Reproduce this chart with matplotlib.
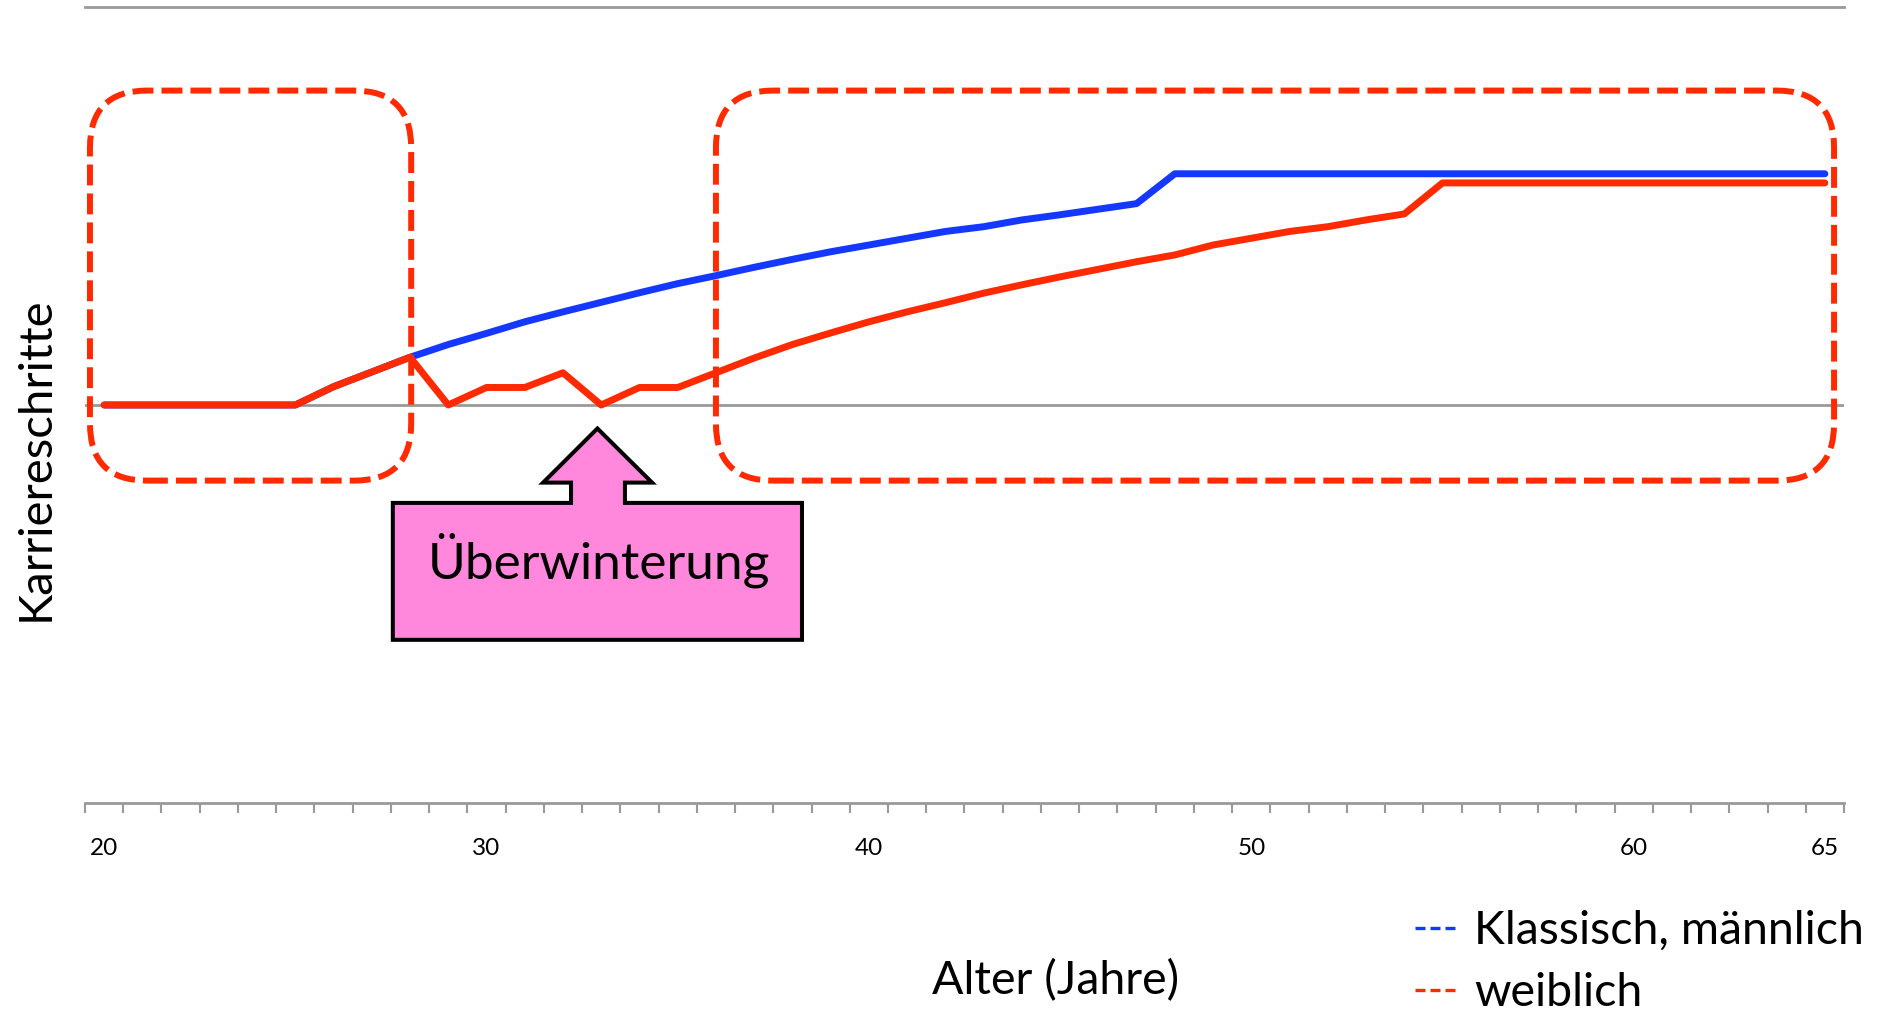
import numpy as np
import matplotlib
matplotlib.use('Agg')
from matplotlib import pyplot as plt
from matplotlib.lines import Line2D
from matplotlib.patches import FancyBboxPatch, Polygon
from matplotlib.transforms import IdentityTransform

plt.rcParams['font.family'] = ['Lato', 'DejaVu Sans']

# data
ages = list(range(20, 66))
klassisch = [0, 0, 0, 0, 0, 0, 0.046, 0.083, 0.12, 0.152, 0.18, 0.209, 0.234, 0.258,
             0.282, 0.305, 0.325, 0.346, 0.366, 0.385, 0.402, 0.419, 0.436, 0.448,
             0.465, 0.478, 0.492, 0.506] + [0.581] * 18
weiblich = [0, 0, 0, 0, 0, 0, 0.046, 0.083, 0.12, 0, 0.044, 0.044, 0.081, 0,
            0.044, 0.044, 0.081, 0.118, 0.152, 0.181, 0.209, 0.234, 0.257, 0.281,
            0.302, 0.322, 0.341, 0.36, 0.377, 0.402, 0.419, 0.436, 0.448, 0.465,
            0.48] + [0.558] * 11
tick_ages = [20, 30, 40, 50, 60, 65]
series_labels = ['Klassisch, männlich', 'weiblich']

BLUE = '#1438FF'
RED = '#FF2A00'
GRAY = '#999999'

W, H = 1881, 1011
fig = plt.figure(figsize=(W / 100, H / 100), dpi=100)
ax = fig.add_axes([85 / W, 1 - 803 / H, 1759 / W, 796 / H])

ax.plot(ages, klassisch, color=BLUE, lw=5, solid_capstyle='round', solid_joinstyle='round')
ax.plot(ages, weiblich, color=RED, lw=5, solid_capstyle='round', solid_joinstyle='round')

ax.set_xlim(19.5, 65.5)
ax.set_ylim(-1, 1)

# gridlines and axis
ax.axhline(0, color=GRAY, lw=2, zorder=1)
ax.axhline(1, color=GRAY, lw=2, zorder=1, clip_on=False)
for s in ['top', 'left', 'right']:
    ax.spines[s].set_visible(False)
ax.spines['bottom'].set_color(GRAY)
ax.spines['bottom'].set_linewidth(2)
ax.set_yticks([])
ax.set_xticks(tick_ages)
ax.set_xticklabels([str(a) for a in tick_ages], fontsize=17.5)
ax.set_xticks(np.arange(19.5, 66, 1), minor=True)
ax.tick_params(axis='x', which='major', length=0, pad=25)
ax.tick_params(axis='x', which='minor', length=7.5, width=1.5, color=GRAY)

# dashed rounded boxes (data extents -> pixels, so the corners stay round)
for x0, x1 in [(19.63, 28.03), (36.0, 65.24)]:
    (px0, py0), (px1, py1) = ax.transData.transform([(x0, -0.19), (x1, 0.79)])
    box = FancyBboxPatch((px0, py0), px1 - px0, py1 - py0,
                         boxstyle='round,pad=0,rounding_size=57',
                         transform=IdentityTransform(), fill=False, ec=RED,
                         lw=4.3, linestyle=(0, (3.5, 1.35)), clip_on=False, zorder=5)
    fig.add_artist(box)

# callout arrow
L, R, T, B = 27.55, 38.25, -0.246, -0.59
sl, sr, hb, hl, hr = 32.21, 33.62, -0.195, 31.48, 34.33
tip = (32.9, -0.059)
verts = [(L, B), (L, T), (sl, T), (sl, hb), (hl, hb), tip, (hr, hb), (sr, hb),
         (sr, T), (R, T), (R, B)]
ax.add_patch(Polygon(verts, closed=True, fc='#FF88DD', ec='black', lw=2.9,
                     joinstyle='miter', clip_on=False, zorder=6))
ax.text(32.94, -0.437, 'Überwinterung', fontsize=37, ha='center', va='baseline', zorder=7)

# axis labels
fig.text(36 / W, 1 - 459 / H, 'Karriereschritte', rotation=90, fontsize=34,
         ha='center', va='center')
fig.text(1056 / W, 1 - 994 / H, 'Alter (Jahre)', fontsize=33.5, ha='center', va='baseline')

# legend
handles = [Line2D([], [], color=BLUE, lw=2.4, linestyle=(0, (3.0, 1.5))),
           Line2D([], [], color=RED, lw=2.4, linestyle=(0, (3.0, 1.5)))]
fig.legend(handles, series_labels, loc='upper left',
           bbox_to_anchor=(1415 / W, 1 - 910 / H), frameon=False, fontsize=33.5,
           borderpad=0, borderaxespad=0, handlelength=0.93, handletextpad=0.34,
           labelspacing=0.44)

fig.savefig('out.png', dpi=100)
